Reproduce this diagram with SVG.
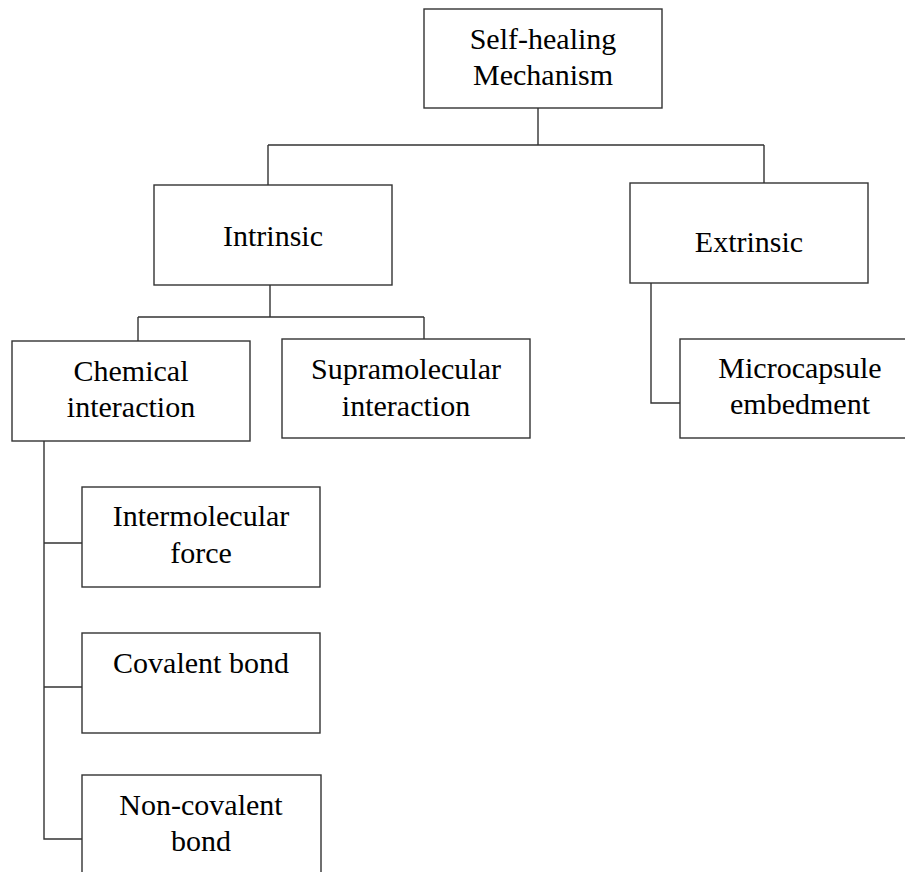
<svg xmlns="http://www.w3.org/2000/svg" width="905" height="872" viewBox="0 0 905 872">
<style>
.box{fill:#fff;stroke:#333;stroke-width:1.4}
.ln{fill:none;stroke:#333;stroke-width:1.4}
text{font-family:"Liberation Serif","Times New Roman",serif;font-size:30px;fill:#000;text-anchor:middle}
</style>
<rect width="905" height="872" fill="#fff"/>
<g id="connectors">
<path class="ln" d="M538,108V145M268,145H764M268,145V185M764,145V183"/>
<path class="ln" d="M270,285V317M138,317H424M138,317V341M424,317V339"/>
<path class="ln" d="M651,283V403H680"/>
<path class="ln" d="M44,441V839H82M44,543H82M44,687H82"/>
</g>
<g id="n-root"><rect class="box" x="424" y="9" width="238" height="99"/><text x="543" y="49">Self-healing</text><text x="543" y="85">Mechanism</text></g>
<g id="n-intrinsic"><rect class="box" x="154" y="185" width="238" height="100"/><text x="273" y="246">Intrinsic</text></g>
<g id="n-extrinsic"><rect class="box" x="630" y="183" width="238" height="100"/><text x="749" y="252">Extrinsic</text></g>
<g id="n-chemical"><rect class="box" x="12" y="341" width="238" height="100"/><text x="131" y="381">Chemical</text><text x="131" y="417">interaction</text></g>
<g id="n-supra"><rect class="box" x="282" y="339" width="248" height="99"/><text x="406" y="379">Supramolecular</text><text x="406" y="416">interaction</text></g>
<g id="n-micro"><rect class="box" x="680" y="339" width="240" height="99"/><text x="800" y="378">Microcapsule</text><text x="800" y="414">embedment</text></g>
<g id="n-inter"><rect class="box" x="82" y="487" width="238" height="100"/><text x="201" y="526">Intermolecular</text><text x="201" y="563">force</text></g>
<g id="n-covalent"><rect class="box" x="82" y="633" width="238" height="100"/><text x="201" y="673">Covalent bond</text></g>
<g id="n-noncovalent"><rect class="box" x="82" y="775" width="239" height="110"/><text x="201" y="815">Non-covalent</text><text x="201" y="851">bond</text></g>
</svg>
